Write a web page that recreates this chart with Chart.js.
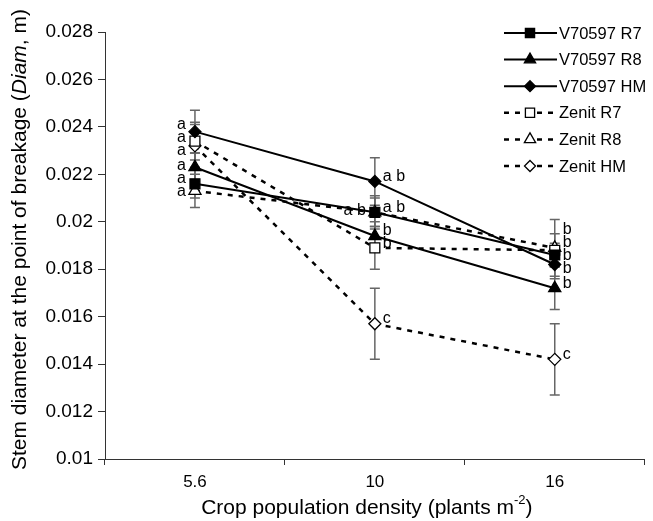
<!DOCTYPE html>
<html>
<head>
<meta charset="utf-8">
<script src="https://cdn.jsdelivr.net/npm/chart.js@4/dist/chart.umd.min.js"></script>
<style>
    html, body { margin: 0; padding: 0; background: #fff; }
    #wrap { width: 653px; height: 521px; }
</style>
</head>
<body>
<div id="wrap"><canvas id="grafik" width="653" height="521"></canvas></div>
<script>
// Kategoriler (bitki yoğunluğu)
const densities = ["5.6", "10", "16"];

// Seri adları
const seriesNames = ["V70597 R7", "V70597 R8", "V70597 HM", "Zenit R7", "Zenit R8", "Zenit HM"];

// Ortalama gövde çapı (m)
const v70597R7 = [0.0216, 0.0204, 0.0186];
const v70597R8 = [0.0223, 0.0194, 0.0172];
const v70597HM = [0.0238, 0.0217, 0.0182];
const zenitR7 = [0.0234, 0.0189, 0.0188];
const zenitR8 = [0.0213, 0.0204, 0.0189];
const zenitHM = [0.0232, 0.0157, 0.0142];

// Hata çubukları (±)
const errV70597R7 = [0.0006, 0.0006, 0.0005];
const errV70597R8 = [0.0006, 0.0006, 0.0009];
const errV70597HM = [0.0009, 0.0010, 0.0006];
const errZenitR7 = [0.0008, 0.0009, 0.0007];
const errZenitR8 = [0.0007, 0.0007, 0.0012];
const errZenitHM = [0.0009, 0.0015, 0.0015];

// Anlamlılık harfleri
const lettersV70597R7 = ["a", "a b", "b"];
const lettersV70597R8 = ["a", "b", "b"];
const lettersV70597HM = ["a", "a b", "b"];
const lettersZenitR7 = ["a", "b", "b"];
const lettersZenitR8 = ["a", "a b", "b"];
const lettersZenitHM = ["a", "c", "c"];

// Y ekseni sınırları
const yMin = 0.01;
const yMax = 0.028;
const yStep = 0.002;

const FONT = "'Liberation Sans', Arial, Helvetica, sans-serif";
Chart.defaults.font.family = FONT;
Chart.defaults.color = "#000";

// Harflerin hangi tarafa yazılacağı
const sideV = ["L", "R", "R"];
const sideZR8 = ["L", "L", "R"];

function makeSeries(i, values, errors, letters, sides, style, filled, dashed, radius) {
    return {
        label: seriesNames[i],
        data: values,
        errors,
        letters,
        sides,
        borderColor: "#000",
        borderWidth: dashed ? 2.5 : 2,
        borderDash: dashed ? [5, 6] : [],
        pointStyle: style,
        pointRadius: radius,
        pointHoverRadius: radius,
        pointBackgroundColor: filled ? "#000" : "#fff",
        pointBorderColor: "#000",
        pointBorderWidth: 1.3,
        tension: 0,
        fill: false,
    };
}

// Hata çubukları
const errorBarPlugin = {
    id: "errorBars",
    beforeDatasetsDraw(chart) {
        const ctx = chart.ctx;
        const yScale = chart.scales.y;
        ctx.save();
        ctx.strokeStyle = "#666";
        ctx.lineWidth = 1.5;
        chart.data.datasets.forEach((ds, i) => {
            const meta = chart.getDatasetMeta(i);
            meta.data.forEach((pt, j) => {
                const top = yScale.getPixelForValue(ds.data[j] + ds.errors[j]);
                const bot = yScale.getPixelForValue(ds.data[j] - ds.errors[j]);
                ctx.beginPath();
                ctx.moveTo(pt.x, top);
                ctx.lineTo(pt.x, bot);
                ctx.moveTo(pt.x - 5, top);
                ctx.lineTo(pt.x + 5, top);
                ctx.moveTo(pt.x - 5, bot);
                ctx.lineTo(pt.x + 5, bot);
                ctx.stroke();
            });
        });
        ctx.restore();
    },
};

// Harf etiketleri (üst üste binenleri küme halinde aralar)
const GAP = 13;
function spreadLabels(items) {
    items.sort((a, b) => a.y - b.y);
    let clusters = items.map((it) => ({ items: [it], mean: it.y }));
    let merged = true;
    while (merged) {
        merged = false;
        for (let k = 0; k < clusters.length - 1; k++) {
            const a = clusters[k], b = clusters[k + 1];
            const aBot = a.mean + ((a.items.length - 1) * GAP) / 2;
            const bTop = b.mean - ((b.items.length - 1) * GAP) / 2;
            if (bTop - aBot < GAP) {
                const all = a.items.concat(b.items);
                clusters.splice(k, 2, { items: all, mean: all.reduce((s, it) => s + it.y, 0) / all.length });
                merged = true;
                break;
            }
        }
    }
    clusters.forEach((c) => {
        const start = c.mean - ((c.items.length - 1) * GAP) / 2;
        c.items.forEach((it, k) => (it.drawY = start + k * GAP));
    });
}

const letterPlugin = {
    id: "letters",
    afterDatasetsDraw(chart) {
        const ctx = chart.ctx;
        const groups = {};
        chart.data.datasets.forEach((ds, i) => {
            const meta = chart.getDatasetMeta(i);
            meta.data.forEach((pt, j) => {
                const side = ds.sides[j];
                const key = j + side;
                if (!groups[key]) groups[key] = [];
                groups[key].push({ x: pt.x, y: pt.y - (side === "L" ? 2 : 5), text: ds.letters[j], side });
            });
        });
        ctx.save();
        ctx.font = "16px " + FONT;
        ctx.fillStyle = "#000";
        ctx.textBaseline = "middle";
        Object.values(groups).forEach((items) => {
            spreadLabels(items);
            items.forEach((it) => {
                if (it.side === "L") {
                    ctx.textAlign = "right";
                    ctx.fillText(it.text, it.x - 9, it.drawY);
                } else {
                    ctx.textAlign = "left";
                    ctx.fillText(it.text, it.x + 8, it.drawY);
                }
            });
        });
        ctx.restore();
    },
};

function drawMarker(ctx, style, x, y, r, filled) {
    ctx.save();
    ctx.fillStyle = filled ? "#000" : "#fff";
    ctx.strokeStyle = "#000";
    ctx.lineWidth = 1.3;
    ctx.setLineDash([]);
    ctx.beginPath();
    if (style === "rect") {
        const s = r * Math.SQRT1_2;
        ctx.rect(x - s, y - s, 2 * s, 2 * s);
    } else if (style === "triangle") {
        ctx.moveTo(x, y - r);
        ctx.lineTo(x + r * 0.866, y + r * 0.5);
        ctx.lineTo(x - r * 0.866, y + r * 0.5);
        ctx.closePath();
    } else {
        ctx.moveTo(x, y - r);
        ctx.lineTo(x + r, y);
        ctx.lineTo(x, y + r);
        ctx.lineTo(x - r, y);
        ctx.closePath();
    }
    ctx.fill();
    ctx.stroke();
    ctx.restore();
}

// Lejant ve eksen başlıkları
const decorPlugin = {
    id: "decor",
    afterDraw(chart) {
        const ctx = chart.ctx;
        const area = chart.chartArea;
        ctx.save();

        // Lejant
        chart.data.datasets.forEach((ds, i) => {
            const y = 33 + i * 26.6;
            ctx.strokeStyle = "#000";
            ctx.lineWidth = ds.borderWidth;
            ctx.setLineDash(ds.borderDash);
            ctx.beginPath();
            ctx.moveTo(504, y);
            ctx.lineTo(557, y);
            ctx.stroke();
            drawMarker(ctx, ds.pointStyle, 530, y, ds.pointRadius - 0.5, ds.pointBackgroundColor === "#000");
            ctx.fillStyle = "#000";
            ctx.font = "16.5px " + FONT;
            ctx.textAlign = "left";
            ctx.textBaseline = "middle";
            ctx.fillText(ds.label, 559, y + 1);
        });

        // Y ekseni başlığı
        const parts = [
            { t: "Stem diameter at the point of breakage (", f: "21px " + FONT },
            { t: "Diam", f: "italic 21px " + FONT },
            { t: ", m)", f: "21px " + FONT },
        ];
        let total = 0;
        parts.forEach((p) => {
            ctx.font = p.f;
            p.w = ctx.measureText(p.t).width;
            total += p.w;
        });
        ctx.translate(20, (area.top + area.bottom) / 2 - 6);
        ctx.rotate(-Math.PI / 2);
        ctx.textAlign = "left";
        ctx.textBaseline = "middle";
        let px = -total / 2;
        parts.forEach((p) => {
            ctx.font = p.f;
            ctx.fillText(p.t, px, 0);
            px += p.w;
        });
        ctx.setTransform(1, 0, 0, 1, 0, 0);

        // X ekseni başlığı
        const main = "Crop population density (plants m";
        const sup = "-2";
        const end = ")";
        ctx.font = "21px " + FONT;
        const wMain = ctx.measureText(main).width;
        const wEnd = ctx.measureText(end).width;
        ctx.font = "13px " + FONT;
        const wSup = ctx.measureText(sup).width;
        const cx = (area.left + area.right) / 2 - 8;
        const ty = 508;
        let sx = cx - (wMain + wSup + wEnd) / 2;
        ctx.textAlign = "left";
        ctx.textBaseline = "middle";
        ctx.font = "21px " + FONT;
        ctx.fillText(main, sx, ty);
        sx += wMain;
        ctx.font = "13px " + FONT;
        ctx.fillText(sup, sx, ty - 8);
        sx += wSup;
        ctx.font = "21px " + FONT;
        ctx.fillText(end, sx, ty);

        ctx.restore();
    },
};

new Chart(document.getElementById("grafik").getContext("2d"), {
    type: "line",
    data: {
        labels: densities,
        datasets: [
            makeSeries(0, v70597R7, errV70597R7, lettersV70597R7, sideV, "rect", true, false, 7),
            makeSeries(1, v70597R8, errV70597R8, lettersV70597R8, sideV, "triangle", true, false, 7),
            makeSeries(2, v70597HM, errV70597HM, lettersV70597HM, sideV, "rectRot", true, false, 6),
            makeSeries(3, zenitR7, errZenitR7, lettersZenitR7, sideV, "rect", false, true, 7),
            makeSeries(4, zenitR8, errZenitR8, lettersZenitR8, sideZR8, "triangle", false, true, 7),
            makeSeries(5, zenitHM, errZenitHM, lettersZenitHM, sideV, "rectRot", false, true, 6),
        ],
    },
    options: {
        responsive: false,
        animation: false,
        layout: { padding: { top: 32, right: 1, left: 0, bottom: 0 } },
        plugins: {
            legend: { display: false },
            tooltip: { enabled: false },
        },
        scales: {
            x: {
                offset: true,
                grid: { offset: true, drawOnChartArea: false, tickLength: 6, color: "#333" },
                border: { color: "#333", width: 1 },
                ticks: { font: { size: 17 }, padding: 7, color: "#000" },
                afterFit: (scale) => { scale.height = 62; },
            },
            y: {
                min: yMin,
                max: yMax,
                ticks: {
                    stepSize: yStep,
                    font: { size: 19 },
                    padding: 5,
                    color: "#000",
                    callback: (v) => String(+v.toFixed(3)),
                },
                grid: { drawOnChartArea: false, tickLength: 7, color: "#333" },
                border: { color: "#333", width: 1 },
                afterFit: (scale) => { scale.width = 105; },
            },
        },
    },
    plugins: [errorBarPlugin, letterPlugin, decorPlugin],
});
</script>
</body>
</html>
